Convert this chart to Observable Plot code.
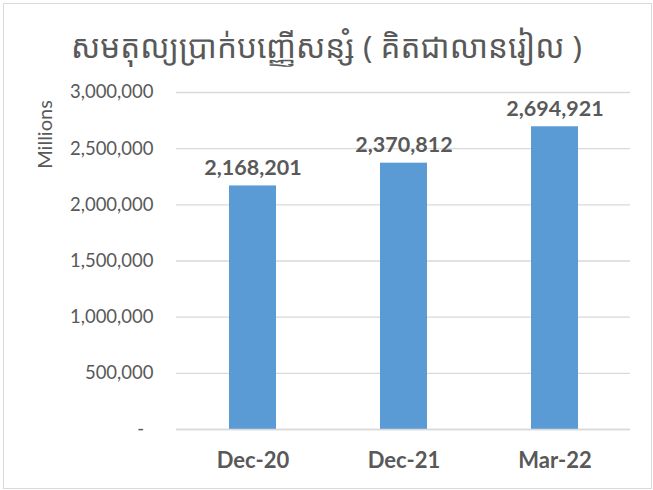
<!DOCTYPE html>
<html>
<head>
<meta charset="utf-8">
<script src="https://cdn.jsdelivr.net/npm/d3@7"></script>
<script src="https://cdn.jsdelivr.net/npm/@observablehq/plot@0.6"></script>
<style>
  html, body { margin: 0; padding: 0; background: #fff; }
  #wrap { position: relative; width: 653px; height: 490px; overflow: hidden; }
  #frame { position: absolute; left: 3px; top: 3px; width: 649px; height: 486px; box-sizing: border-box; border: 1px solid #d9d9d9; pointer-events: none; }
  #title { height: 70px; box-sizing: border-box; padding-top: 20px; display: flex; align-items: center; justify-content: center;
           font-family: "Noto Sans Khmer", "Khmer OS", "DejaVu Sans", sans-serif; font-size: 31.5px; color: #595959; white-space: nowrap; }
  #chart svg { display: block; overflow: visible; }
</style>
</head>
<body>
<div id="wrap">
  <div id="title">សមតុល្យប្រាក់បញ្ញើសន្សំ ( គិតជាលានរៀល )</div>
  <div id="chart"></div>
  <div id="frame"></div>
</div>
<script>
const categories = ["Dec-20", "Dec-21", "Mar-22"];
const values = [2168201, 2370812, 2694921];
const yTicks = [0, 500000, 1000000, 1500000, 2000000, 2500000, 3000000];
const yLabel = "Millions";

const data = categories.map((c, i) => ({category: c, value: values[i]}));
const fmt = d3.format(",");
const grey = "#595959";

const chart = Plot.plot({
  width: 653,
  height: 420,
  marginTop: 22,
  marginBottom: 61,
  marginLeft: 176,
  marginRight: 23,
  style: {fontFamily: "Lato, 'Open Sans', sans-serif", fontSize: "18px", color: grey, background: "transparent"},
  x: {domain: categories, paddingInner: 0.69, paddingOuter: 0.345, axis: null},
  y: {domain: [0, 3000000], axis: null},
  marks: [
    Plot.ruleY(yTicks, {stroke: "#d9d9d9", strokeWidth: 1.4}),
    Plot.barY(data, {x: "category", y: "value", fill: "#5B9BD5"}),
    Plot.ruleY([0], {stroke: "#d9d9d9", strokeWidth: 1.6}),
    Plot.axisY(yTicks, {tickSize: 0, tickPadding: 23, fontSize: 18.5, fill: grey,
      tickFormat: d => d === 0 ? "-\u00a0\u00a0" : fmt(d), label: null}),
    Plot.axisX(categories, {tickSize: 0, tickPadding: 23, fontSize: 22, fontWeight: "bold", fill: grey, label: null}),
    Plot.text(data, {x: "category", y: "value", text: d => fmt(d.value), dy: -18,
      fontSize: 21.5, fontWeight: "bold", fill: grey, lineAnchor: "middle"}),
    Plot.text([yLabel], {frameAnchor: "top-left", dx: -130.5, dy: 42, rotate: -90,
      textAnchor: "middle", lineAnchor: "middle", fontSize: 20, fill: grey})
  ]
});
document.getElementById("chart").appendChild(chart);
</script>
</body>
</html>
